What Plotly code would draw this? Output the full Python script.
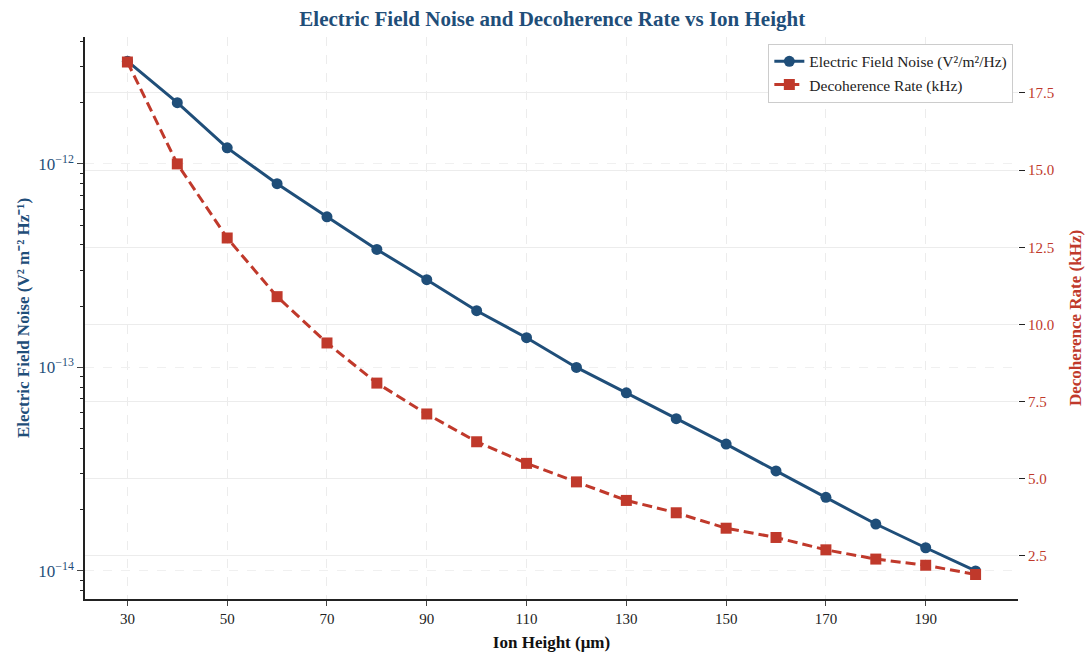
import plotly.graph_objects as go

ion_height = [30, 40, 50, 60, 70, 80, 90, 100, 110, 120, 130, 140, 150, 160, 170, 180, 190, 200]
noise = [3.2e-12, 2.0e-12, 1.2e-12, 8.0e-13, 5.5e-13, 3.8e-13, 2.7e-13, 1.9e-13, 1.4e-13,
         1.0e-13, 7.5e-14, 5.6e-14, 4.2e-14, 3.1e-14, 2.3e-14, 1.7e-14, 1.3e-14, 1.0e-14]
decoherence = [18.5, 15.2, 12.8, 10.9, 9.4, 8.1, 7.1, 6.2, 5.5, 4.9, 4.3, 3.9, 3.4, 3.1, 2.7, 2.4, 2.2, 1.9]
x_ticks = [30, 50, 70, 90, 110, 130, 150, 170, 190]
left_major = [1e-12, 1e-13, 1e-14]
left_major_text = ["10<sup>−12</sup>", "10<sup>−13</sup>", "10<sup>−14</sup>"]
left_minor = [m * 10.0 ** e for e in (-15, -14, -13, -12) for m in range(2, 10)]
right_ticks = [2.5, 5.0, 7.5, 10.0, 12.5, 15.0, 17.5]
right_text = ["2.5", "5.0", "7.5", "10.0", "12.5", "15.0", "17.5"]

BLUE = "#1f4e79"
RED = "#c0392b"
FONT = "Liberation Serif, Times New Roman, serif"

fig = go.Figure()
fig.add_trace(go.Scatter(
    x=ion_height, y=noise, name="Electric Field Noise (V²/m²/Hz)",
    mode="lines+markers", line=dict(color=BLUE, width=3),
    marker=dict(symbol="circle", size=11, color=BLUE), yaxis="y"))
fig.add_trace(go.Scatter(
    x=ion_height, y=decoherence, name="Decoherence Rate (kHz)",
    mode="lines+markers", line=dict(color=RED, width=3, dash="10px,5px"),
    marker=dict(symbol="square", size=11, color=RED), yaxis="y2"))

fig.update_layout(
    width=1085, height=652,
    margin=dict(l=85, r=67, t=37, b=53),
    paper_bgcolor="white", plot_bgcolor="white",
    font=dict(family=FONT, size=15, color="#222"),
    title=dict(text="<b>Electric Field Noise and Decoherence Rate vs Ion Height</b>",
               x=0.509, xanchor="center", y=0.972, yanchor="middle",
               font=dict(family=FONT, size=21, color=BLUE)),
    xaxis=dict(
        range=[21.5, 208.5], tickvals=x_ticks, ticks="outside", ticklen=5,
        showline=True, linecolor="#222", linewidth=1.5, mirror=False,
        showgrid=True, gridcolor="#ececec", griddash="dash", gridwidth=1,
        zeroline=False, automargin=False,
        tickfont=dict(family=FONT, size=15, color="#222"),
        title=dict(text="<b>Ion Height (μm)</b>", font=dict(family=FONT, size=17, color="#111")),
    ),
    yaxis=dict(
        type="log", range=[-14.138, -11.376],
        tickvals=left_major, ticktext=left_major_text, ticks="outside", ticklen=6,
        minor=dict(tickvals=left_minor, ticks="outside", ticklen=3, tickcolor="#222", showgrid=False),
        showline=True, linecolor="#222", linewidth=1.5,
        showgrid=True, gridcolor="#f0f0f0", griddash="dash",
        zeroline=False, automargin=False,
        tickfont=dict(family=FONT, size=17, color=BLUE),
        title=dict(text="<b>Electric Field Noise (V² m⁻² Hz⁻¹)</b>",
                   font=dict(family=FONT, size=17, color=BLUE), standoff=4),
    ),
    yaxis2=dict(
        overlaying="y", side="right", range=[1.107, 19.31],
        tickvals=right_ticks, ticktext=right_text,
        ticks="outside", ticklen=6, tickcolor="#222",
        showline=False, showgrid=True, gridcolor="#ececec", gridwidth=1,
        zeroline=False, automargin=False,
        tickfont=dict(family=FONT, size=15, color=RED),
        title=dict(text="<b>Decoherence Rate (kHz)</b>",
                   font=dict(family=FONT, size=17, color=RED)),
    ),
    legend=dict(
        x=0.995, y=0.988, xanchor="right", yanchor="top",
        bgcolor="white", bordercolor="#cccccc", borderwidth=1,
        font=dict(family=FONT, size=15.5, color="#222"),
        tracegroupgap=0,
    ),
)

fig.write_html("out.html")
